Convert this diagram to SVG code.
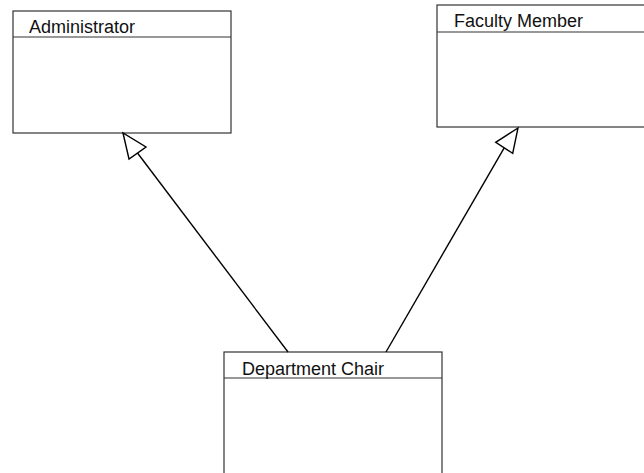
<svg xmlns="http://www.w3.org/2000/svg" width="644" height="473" viewBox="0 0 644 473">
  <style>
    .box { fill: #ffffff; stroke: #333333; stroke-width: 1.2; }
    .div { stroke: #333333; stroke-width: 1.2; }
    .name { font-family: "Liberation Sans", Arial, sans-serif; font-size: 18px; fill: #111111; }
    .edge { stroke: #000000; stroke-width: 1.4; fill: none; }
    .head { fill: #ffffff; stroke: #000000; stroke-width: 1.4; stroke-linejoin: miter; }
  </style>
  <rect width="644" height="473" fill="#ffffff"/>

  <g id="administrator">
    <rect class="box" x="13" y="11" width="218" height="122"/>
    <line class="div" x1="13" y1="37" x2="231" y2="37"/>
    <text class="name" x="29" y="33">Administrator</text>
  </g>

  <g id="faculty-member">
    <rect class="box" x="437" y="5" width="220" height="122"/>
    <line class="div" x1="437" y1="32" x2="657" y2="32"/>
    <text class="name" x="454" y="27">Faculty Member</text>
  </g>

  <g id="department-chair">
    <rect class="box" x="224" y="352" width="218" height="140"/>
    <line class="div" x1="224" y1="378" x2="442" y2="378"/>
    <text class="name" x="242" y="375">Department Chair</text>
  </g>

  <!-- generalization connectors with hollow triangle heads -->
  <g id="connectors">
    <line class="edge" x1="288" y1="352" x2="137.5" y2="153"/>
    <polygon class="head" points="123,133 129,159 146,147"/>
    <line class="edge" x1="386" y1="352" x2="504.2" y2="147.8"/>
    <polygon class="head" points="518,128 495.7,142.3 512.7,153.3"/>
  </g>
</svg>
